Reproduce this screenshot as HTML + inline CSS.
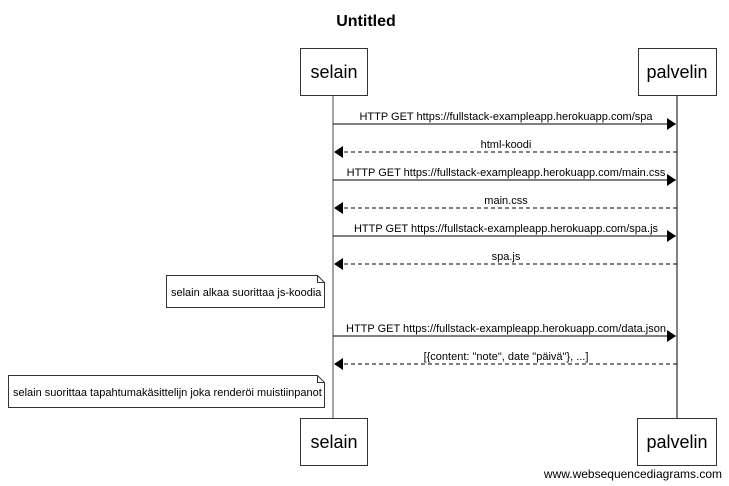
<!DOCTYPE html>
<html><head><meta charset="utf-8"><style>
body{margin:0;background:#fff}
svg{display:block;font-family:"Liberation Sans",Arial,sans-serif}
</style></head><body>
<svg width="729" height="486" viewBox="0 0 729 486" xmlns="http://www.w3.org/2000/svg">
<defs>
<marker id="a" markerWidth="10" markerHeight="12" refX="9" refY="6" orient="auto" markerUnits="userSpaceOnUse"><path d="M0,0 L9,6 L0,12 z" fill="#000"/></marker>
</defs>
<text x="366" y="26" font-size="16" font-weight="bold" text-anchor="middle">Untitled</text>
<line x1="333" y1="95" x2="333" y2="418" stroke="#888" stroke-width="1.5"/>
<line x1="677" y1="95" x2="677" y2="418" stroke="#000" stroke-width="1"/>
<g fill="#fff" stroke="#333" stroke-width="1">
<rect x="300.5" y="48.5" width="67" height="47"/>
<rect x="638.5" y="48.5" width="78" height="47"/>
<rect x="300.5" y="418.5" width="67" height="47"/>
<rect x="637.5" y="418.5" width="79" height="47"/>
</g>
<g font-size="18" text-anchor="middle">
<text x="334" y="78">selain</text><text x="677" y="78">palvelin</text>
<text x="334" y="448">selain</text><text x="677" y="448">palvelin</text>
</g>
<g stroke="#000" stroke-width="1">
<line x1="333" y1="124" x2="676" y2="124" marker-end="url(#a)"/>
<line x1="677" y1="152" x2="334" y2="152" stroke-dasharray="4,3" marker-end="url(#a)"/>
<line x1="333" y1="180" x2="676" y2="180" marker-end="url(#a)"/>
<line x1="677" y1="208" x2="334" y2="208" stroke-dasharray="4,3" marker-end="url(#a)"/>
<line x1="333" y1="236" x2="676" y2="236" marker-end="url(#a)"/>
<line x1="677" y1="264" x2="334" y2="264" stroke-dasharray="4,3" marker-end="url(#a)"/>
<line x1="333" y1="336" x2="676" y2="336" marker-end="url(#a)"/>
<line x1="677" y1="364" x2="334" y2="364" stroke-dasharray="4,3" marker-end="url(#a)"/>
</g>
<g font-size="11" text-anchor="middle">
<text x="506" y="120">HTTP GET https://fullstack-exampleapp.herokuapp.com/spa</text>
<text x="506" y="148">html-koodi</text>
<text x="506" y="176">HTTP GET https://fullstack-exampleapp.herokuapp.com/main.css</text>
<text x="506" y="204">main.css</text>
<text x="506" y="232">HTTP GET https://fullstack-exampleapp.herokuapp.com/spa.js</text>
<text x="506" y="260">spa.js</text>
<text x="506" y="332">HTTP GET https://fullstack-exampleapp.herokuapp.com/data.json</text>
<text x="506" y="360">[{content: "note", date "päivä"}, ...]</text>
</g>
<g fill="#fff" stroke="#333" stroke-width="1">
<path d="M166.5,275.5 H317.5 L324.5,282.5 V307.5 H166.5 Z"/>
<path d="M317.5,275.5 V282.5 H324.5" fill="none"/>
<path d="M8.5,375.5 H317.5 L324.5,382.5 V407.5 H8.5 Z"/>
<path d="M317.5,375.5 V382.5 H324.5" fill="none"/>
</g>
<g font-size="11">
<text x="171" y="296">selain alkaa suorittaa js-koodia</text>
<text x="13" y="396">selain suorittaa tapahtumakäsittelijn joka renderöi muistiinpanot</text>
</g>
<text x="722" y="478" font-size="12" text-anchor="end">www.websequencediagrams.com</text>
</svg>
</body></html>
